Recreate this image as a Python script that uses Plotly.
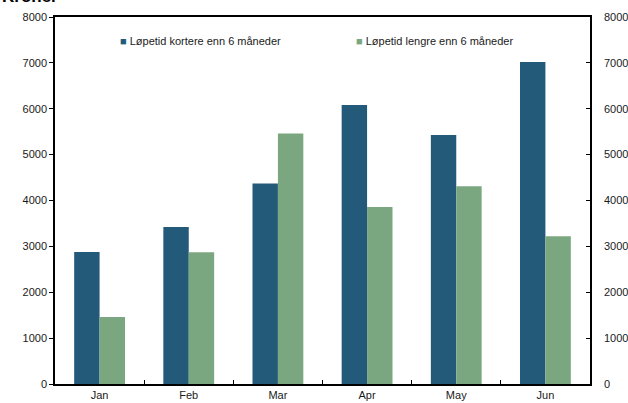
import plotly.graph_objects as go

# Monthly volumes by maturity (kroner)
months = ["Jan", "Feb", "Mar", "Apr", "May", "Jun"]
short_term = [2880, 3420, 4370, 6080, 5430, 7020]
long_term = [1460, 2870, 5460, 3860, 4310, 3220]
series_names = ["Løpetid kortere enn 6 måneder", "Løpetid lengre enn 6 måneder"]
colors = ["#235A7A", "#7BA780"]

y_ticks = [0, 1000, 2000, 3000, 4000, 5000, 6000, 7000, 8000]
font = dict(family="Liberation Sans, Arial, sans-serif", size=11, color="#1a1a1a")

fig = go.Figure()
fig.add_trace(go.Bar(x=months, y=short_term, name=series_names[0],
                     marker=dict(color=colors[0], line=dict(width=0))))
fig.add_trace(go.Bar(x=months, y=long_term, name=series_names[1],
                     marker=dict(color=colors[1], line=dict(width=0))))
# invisible trace to carry the right-hand axis
fig.add_trace(go.Scatter(x=months, y=[None] * len(months), yaxis="y2",
                         showlegend=False, hoverinfo="skip"))

fig.update_layout(
    width=628, height=403,
    margin=dict(l=55, r=38, t=17, b=19),
    paper_bgcolor="white", plot_bgcolor="white",
    barmode="group", bargap=0.43, bargroupgap=0,
    showlegend=False,
    font=font,
    xaxis=dict(
        showline=True, linecolor="black", linewidth=1.5, mirror=True,
        ticks="inside", tickson="boundaries", ticklen=4, tickcolor="black",
        showgrid=False, tickfont=font, automargin=False,
    ),
    yaxis=dict(
        range=[0, 8000], tickvals=y_ticks, showline=True, linecolor="black",
        linewidth=1.5, ticks="outside", ticklen=4, tickcolor="black",
        showgrid=False, zeroline=False, tickfont=font, automargin=False,
    ),
    yaxis2=dict(
        range=[0, 8000], tickvals=y_ticks, overlaying="y", side="right",
        showline=True, linecolor="black", linewidth=1.5, ticks="inside",
        ticklen=4, tickcolor="black", showgrid=False, zeroline=False,
        tickfont=font, ticklabelstandoff=10, automargin=False,
    ),
)

# Legend drawn as coloured squares followed by the series names
legend_x = [118, 354]
for name, color, px in zip(series_names, colors, legend_x):
    fig.add_annotation(
        x=(px - 55) / 535, y=1 - (41 - 17) / 367, xref="paper", yref="paper",
        xanchor="left", yanchor="middle", showarrow=False,
        text=f'<span style="color:{color}">■</span> {name}',
        font=font,
    )

# Unit label at the top-left corner
fig.add_annotation(
    x=-55 / 535, y=1 + (17 - 8) / 367, xref="paper", yref="paper",
    xanchor="left", yanchor="bottom", showarrow=False,
    text="<b>Kroner</b>", font=dict(family=font["family"], size=17, color="black"),
)

fig.write_html("out.html")
